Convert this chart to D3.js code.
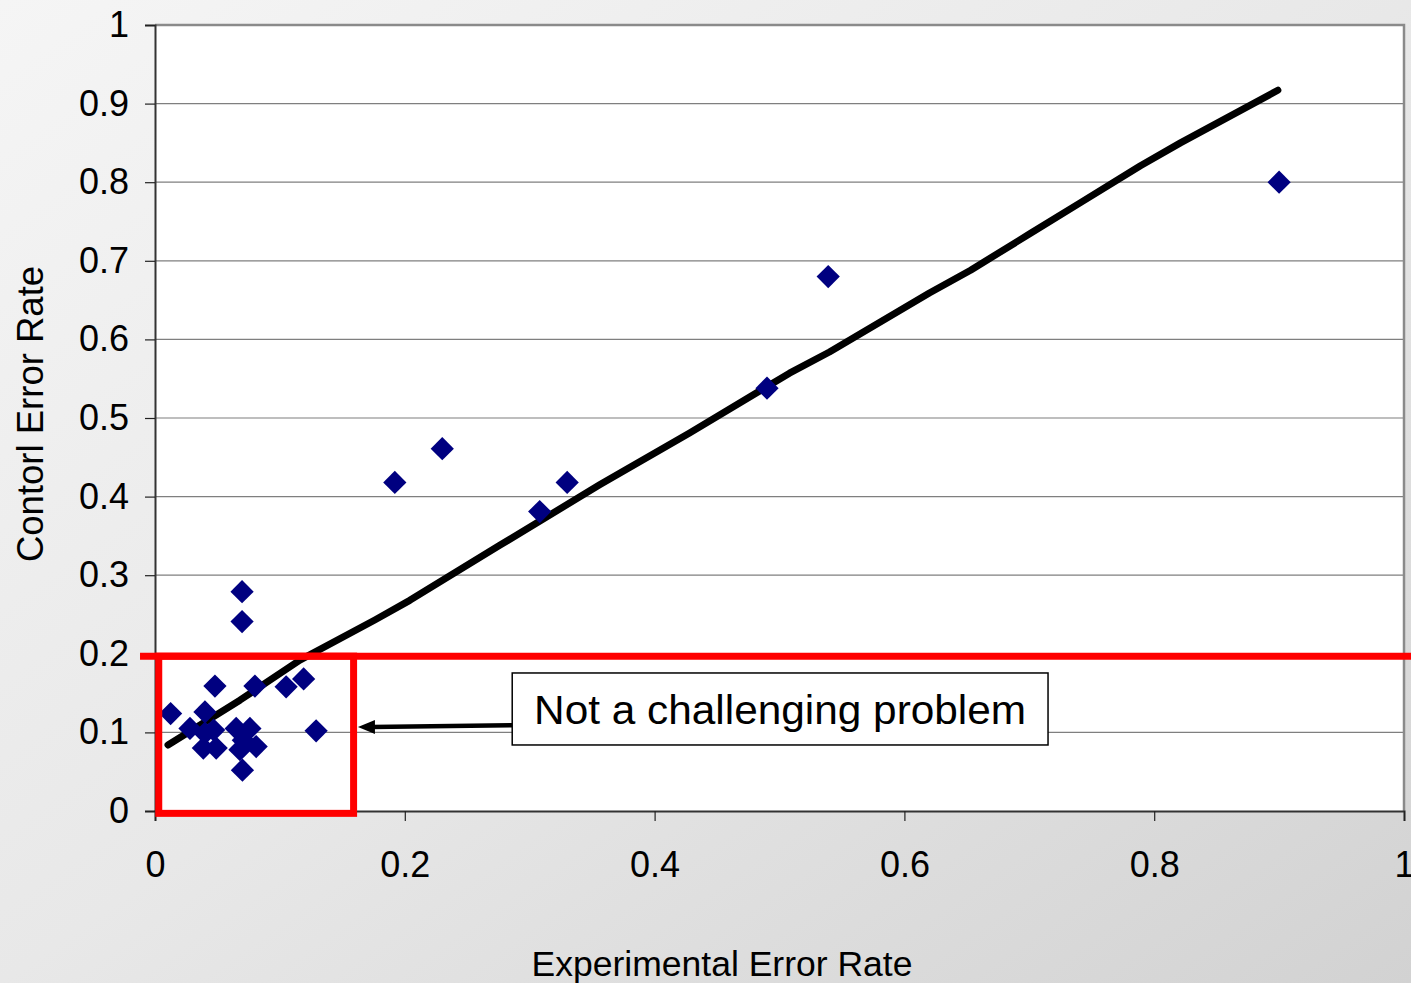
<!DOCTYPE html>
<html><head><meta charset="utf-8">
<script src="https://cdn.jsdelivr.net/npm/d3@7"></script>
<style>html,body{margin:0;padding:0;overflow:hidden;}svg{display:block;font-family:"Liberation Sans",Arial,sans-serif;}</style>
</head><body>
<script>
// ---- data ----
const experimental = [0.0125,0.040,0.028,0.040,0.0387,0.049,0.047,0.048,0.065,0.076,0.0707,0.068,0.081,0.070,0.080,0.105,0.119,0.129,0.0697,0.0697,0.192,0.230,0.308,0.330,0.490,0.539,0.900];
const control      = [0.124,0.126,0.105,0.099,0.080,0.080,0.103,0.159,0.105,0.105,0.090,0.078,0.082,0.052,0.159,0.158,0.168,0.102,0.241,0.279,0.418,0.461,0.381,0.418,0.538,0.680,0.800];
const trendX = [0.0104,0.068,0.116,0.176,0.204,0.276,0.356,0.428,0.508,0.540,0.620,0.653,0.701,0.741,0.789,0.821,0.899];
const trendY = [0.084,0.141,0.192,0.243,0.268,0.338,0.415,0.481,0.557,0.584,0.659,0.688,0.735,0.774,0.821,0.850,0.917];
const xTicks = [0,0.2,0.4,0.6,0.8,1];
const xTickLabels = ["0","0.2","0.4","0.6","0.8","1"];
const yTicks = [0,0.1,0.2,0.3,0.4,0.5,0.6,0.7,0.8,0.9,1];
const yTickLabels = ["0","0.1","0.2","0.3","0.4","0.5","0.6","0.7","0.8","0.9","1"];
const xTitle = "Experimental Error Rate";
const yTitle = "Contorl Error Rate";
const threshold = 0.197;            // red horizontal line
const easyRegion = [0.003,0.159,-0.003,0.197]; // x0,x1,y0,y1
const noteText = "Not a challenging problem";
const noteBox = [0.286,0.715,0.084,0.1756];    // x0,x1,y0,y1
const noteArrow = [0.286,0.109,0.1625,0.107];  // from x,y to x,y

// ---- layout ----
const W = 1411, H = 983;
const x = d3.scaleLinear().domain([0,1]).range([155,1404]);
const y = d3.scaleLinear().domain([0,1]).range([811,25]);

const svg = d3.select("body").append("svg").attr("width",W).attr("height",H);
const defs = svg.append("defs");
const g = defs.append("linearGradient").attr("id","bg").attr("x1","0").attr("y1","0").attr("x2","1").attr("y2","1");
g.append("stop").attr("offset","0").attr("stop-color","#f5f5f5");
g.append("stop").attr("offset","0.5").attr("stop-color","#e8e8e8");
g.append("stop").attr("offset","1").attr("stop-color","#d2d2d2");

svg.append("rect").attr("width",W).attr("height",H).attr("fill","url(#bg)");

// plot area
svg.append("rect").attr("x",x(0)).attr("y",y(1)).attr("width",x(1)-x(0)).attr("height",y(0)-y(1)).attr("fill","#fff");

// gridlines
svg.append("g").selectAll("line").data(yTicks.filter(d=>d>0&&d<1)).join("line")
  .attr("x1",x(0)).attr("x2",x(1)).attr("y1",d=>y(d)).attr("y2",d=>y(d))
  .attr("stroke","#7f7f7f").attr("stroke-width",1.2);

// plot border (top/right gray)
svg.append("path").attr("d",`M${x(0)},${y(1)}H${x(1)}V${y(0)}`).attr("fill","none").attr("stroke","#8a8a8a").attr("stroke-width",2.5);

// axes
const xAxis = d3.axisBottom(x).tickValues(xTicks).tickFormat((d,i)=>xTickLabels[i]).tickSize(10).tickPadding(30);
const yAxis = d3.axisLeft(y).tickValues(yTicks).tickFormat((d,i)=>yTickLabels[i]).tickSize(10).tickPadding(16);
const gx = svg.append("g").attr("transform",`translate(0,${y(0)})`).call(xAxis);
const gy = svg.append("g").attr("transform",`translate(${x(0)},0)`).call(yAxis);
[gx,gy].forEach(a=>{
  a.select(".domain").attr("stroke","#333").attr("stroke-width",2);
  a.selectAll(".tick line").attr("stroke","#222").attr("stroke-width",1.2);
  a.selectAll(".tick text").attr("font-size",36).attr("fill","#000").attr("font-family","'Liberation Sans',Arial,sans-serif");
});

// titles
svg.append("text").attr("x",722).attr("y",976).attr("text-anchor","middle").attr("font-size",35.5).attr("fill","#000").text(xTitle);
svg.append("text").attr("transform",`translate(43,${414}) rotate(-90)`).attr("text-anchor","middle").attr("font-size",36.5).attr("fill","#000").text(yTitle);

// trend line
const trend = trendX.map((v,i)=>[v,trendY[i]]);
svg.append("path").datum(trend).attr("d",d3.line().x(d=>x(d[0])).y(d=>y(d[1])))
  .attr("fill","none").attr("stroke","#000").attr("stroke-width",7).attr("stroke-linecap","round").attr("stroke-linejoin","round");

// points
const pts = experimental.map((v,i)=>[v,control[i]]);
const sym = d3.symbol().type(d3.symbolSquare).size(270);
svg.append("g").selectAll("path").data(pts).join("path")
  .attr("d",sym).attr("transform",d=>`translate(${x(d[0])},${y(d[1])}) rotate(45)`)
  .attr("fill","#000080");

// red threshold line and region
svg.append("line").attr("x1",x(-0.012)).attr("x2",W).attr("y1",y(threshold)).attr("y2",y(threshold))
  .attr("stroke","#ff0000").attr("stroke-width",7);
svg.append("rect").attr("x",x(easyRegion[0])).attr("y",y(easyRegion[3])).attr("width",x(easyRegion[1])-x(easyRegion[0]))
  .attr("height",y(easyRegion[2])-y(easyRegion[3])).attr("fill","none").attr("stroke","#ff0000").attr("stroke-width",7);

// annotation arrow
const ax0 = x(noteArrow[0]), ay0 = y(noteArrow[1]), ax1 = x(noteArrow[2]), ay1 = y(noteArrow[3]);
svg.append("line").attr("x1",ax0).attr("y1",ay0).attr("x2",ax1+14).attr("y2",ay1)
  .attr("stroke","#000").attr("stroke-width",4.5);
svg.append("path").attr("d",`M${ax1},${ay1} L${ax1+17},${ay1-7} L${ax1+17},${ay1+7} Z`).attr("fill","#000");

svg.append("rect").attr("x",x(noteBox[0])).attr("y",y(noteBox[3])).attr("width",x(noteBox[1])-x(noteBox[0]))
  .attr("height",y(noteBox[2])-y(noteBox[3])).attr("fill","#fff").attr("stroke","#000").attr("stroke-width",1.5);
svg.append("text").attr("x",(x(noteBox[0])+x(noteBox[1]))/2).attr("y",y((noteBox[2]+noteBox[3])/2)+15)
  .attr("text-anchor","middle").attr("font-size",41).attr("fill","#000")
  .attr("textLength",492).attr("lengthAdjust","spacingAndGlyphs").text(noteText);
</script>
</body></html>
